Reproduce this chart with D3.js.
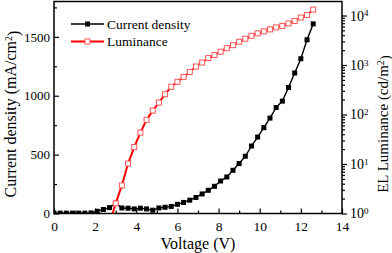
<!DOCTYPE html>
<html>
<head>
<meta charset="utf-8">
<script src="https://cdn.jsdelivr.net/npm/d3@7"></script>
<style>
  body { margin: 0; background: #fff; }
  svg text { font-family: "Liberation Serif", "Times New Roman", serif; fill: #000; }
  .axis path { display: none; }
  .axis line { stroke: #000; stroke-width: 1.2px; }
</style>
</head>
<body>
<div id="chart"></div>
<script>
// voltage steps (V)
var voltage = [0, 0.3, 0.6, 0.9, 1.2, 1.5, 1.8, 2.1, 2.4, 2.7, 3.0, 3.3, 3.6, 3.9, 4.2, 4.5, 4.8,
    5.1, 5.4, 5.7, 6.0, 6.3, 6.6, 6.9, 7.2, 7.5, 7.8, 8.1, 8.4, 8.7, 9.0, 9.3, 9.6, 9.9, 10.2,
    10.5, 10.8, 11.1, 11.4, 11.7, 12.0, 12.3, 12.6];
// current density (mA/cm2)
var currentDensity = [3, 3, 3, 3, 3, 3, 5, 19, 34, 50, 88, 47, 45, 39, 45, 39, 28,
    47, 53, 60, 78, 94, 113, 136, 166, 197, 231, 276, 310, 367, 424, 486, 573, 649, 729,
    810, 900, 954, 1070, 1193, 1314, 1475, 1610];
// luminance (cd/m2), starts at 2.7 V
var lumVoltage = [2.7, 3.0, 3.3, 3.6, 3.9, 4.2, 4.5, 4.8, 5.1, 5.4, 5.7, 6.0, 6.3, 6.6, 6.9,
    7.2, 7.5, 7.8, 8.1, 8.4, 8.7, 9.0, 9.3, 9.6, 9.9, 10.2, 10.5, 10.8, 11.1, 11.4, 11.7,
    12.0, 12.3, 12.6];
var luminance = [0.63, 1.6, 3.7, 10.2, 22, 43, 78, 120, 174, 257, 363, 457, 575, 724, 933,
    1122, 1380, 1585, 1862, 2188, 2512, 2951, 3388, 3890, 4365, 4786, 5248, 5754, 6166, 6918, 7762,
    9120, 10230, 13180];

var xTicks = [0, 2, 4, 6, 8, 10, 12, 14];
var xMinor = [1, 3, 5, 7, 9, 11, 13];
var yLTicks = [0, 500, 1000, 1500];
var yLMinor = [250, 750, 1250, 1750];
var yRTicks = [1, 10, 100, 1000, 10000];
var legendLabels = ["Current density", "Luminance"];

var width = 392, height = 253;
var pLeft = 54, pRight = 342, pTop = 1.5, pBottom = 213.5;

var svg = d3.select("#chart").append("svg")
    .attr("width", width)
    .attr("height", height);

var x = d3.scaleLinear().domain([0, 14]).range([pLeft, pRight]);
var yL = d3.scaleLinear().domain([0, 1800]).range([pBottom, pTop]);
var yR = d3.scaleLog().domain([1, 19200]).range([pBottom, pTop]);

svg.append("clipPath").attr("id", "plot-clip")
    .append("rect")
    .attr("x", pLeft).attr("y", pTop)
    .attr("width", pRight - pLeft).attr("height", pBottom - pTop);

// axes
svg.append("g").attr("class", "axis")
    .attr("transform", "translate(0," + pBottom + ")")
    .call(d3.axisBottom(x).tickValues(xTicks).tickSizeInner(-5).tickSizeOuter(0).tickPadding(8))
    .selectAll("text").style("font-size", "13.5px");

svg.append("g").attr("class", "axis")
    .attr("transform", "translate(0," + pBottom + ")")
    .call(d3.axisBottom(x).tickValues(xMinor).tickSizeInner(-3).tickSizeOuter(0).tickFormat(""));

svg.append("g").attr("class", "axis")
    .attr("transform", "translate(" + pLeft + ",0)")
    .call(d3.axisLeft(yL).tickValues(yLTicks).tickFormat(d3.format("d"))
        .tickSizeInner(-5).tickSizeOuter(0).tickPadding(4))
    .selectAll("text").style("font-size", "13px");

svg.append("g").attr("class", "axis")
    .attr("transform", "translate(" + pLeft + ",0)")
    .call(d3.axisLeft(yL).tickValues(yLMinor).tickSizeInner(-3).tickSizeOuter(0).tickFormat(""));

var rightAxis = svg.append("g").attr("class", "axis")
    .attr("transform", "translate(" + pRight + ",0)")
    .call(d3.axisRight(yR).tickValues(yRTicks).tickSizeInner(5).tickSizeOuter(0).tickPadding(3)
        .tickFormat(function () { return ""; }));

rightAxis.selectAll(".tick text").each(function (d) {
    var t = d3.select(this).style("font-size", "14px");
    t.append("tspan").text("10");
    t.append("tspan").attr("dy", "-0.45em").style("font-size", "9px").text(Math.round(Math.log10(d)));
});

var rMinor = [];
yRTicks.forEach(function (dec) {
    for (var k = 2; k <= 9; k++) {
        if (dec * k <= 19200) rMinor.push(dec * k);
    }
});
svg.append("g").attr("class", "axis")
    .attr("transform", "translate(" + pRight + ",0)")
    .call(d3.axisRight(yR).tickValues(rMinor).tickSizeInner(3).tickSizeOuter(0).tickFormat(""));

// frame
svg.append("rect")
    .attr("x", pLeft).attr("y", pTop)
    .attr("width", pRight - pLeft).attr("height", pBottom - pTop)
    .style("fill", "none")
    .style("stroke", "#000")
    .style("stroke-width", "1.5px");

var jData = voltage.map(function (v, i) { return {v: v, j: currentDensity[i]}; });
var lData = lumVoltage.map(function (v, i) { return {v: v, l: luminance[i]}; });

var plot = svg.append("g").attr("clip-path", "url(#plot-clip)");

// current density series
plot.append("path")
    .datum(jData)
    .attr("d", d3.line().x(function (d) { return x(d.v); }).y(function (d) { return yL(d.j); }))
    .style("fill", "none")
    .style("stroke", "#000")
    .style("stroke-width", "1.4px");

plot.selectAll(".jdot")
    .data(jData)
    .enter().append("rect")
    .attr("class", "jdot")
    .attr("x", function (d) { return x(d.v) - 2.5; })
    .attr("y", function (d) { return yL(d.j) - 2.5; })
    .attr("width", 5)
    .attr("height", 5)
    .style("fill", "#000");

// luminance series
plot.append("path")
    .datum(lData)
    .attr("d", d3.line().x(function (d) { return x(d.v); }).y(function (d) { return yR(d.l); }))
    .style("fill", "none")
    .style("stroke", "#f00")
    .style("stroke-width", "2px");

plot.selectAll(".ldot")
    .data(lData)
    .enter().append("rect")
    .attr("class", "ldot")
    .attr("x", function (d) { return x(d.v) - 2.5; })
    .attr("y", function (d) { return yR(d.l) - 2.5; })
    .attr("width", 5)
    .attr("height", 5)
    .style("fill", "#fff")
    .style("stroke", "#f55")
    .style("stroke-width", "1px");

// legend
var legend = svg.append("g").attr("transform", "translate(71,24)");
legendLabels.forEach(function (name, i) {
    var g = legend.append("g").attr("transform", "translate(0," + (i * 17.5) + ")");
    var col = i === 0 ? "#000" : "#f00";
    g.append("line")
        .attr("x1", 0).attr("x2", 33).attr("y1", 0).attr("y2", 0)
        .style("stroke", col).style("stroke-width", i === 0 ? "1.4px" : "2px");
    if (i === 0) {
        g.append("rect").attr("x", 14).attr("y", -2.5).attr("width", 5).attr("height", 5)
            .style("fill", "#000");
    } else {
        g.append("rect").attr("x", 14).attr("y", -2.5).attr("width", 5).attr("height", 5)
            .style("fill", "#fff").style("stroke", "#f55").style("stroke-width", "1px");
    }
    g.append("text")
        .attr("x", 36).attr("y", 0).attr("dy", "0.35em")
        .style("font-size", "13.5px")
        .text(name);
});

// axis titles
svg.append("text")
    .attr("x", (pLeft + pRight) / 2).attr("y", 249)
    .attr("text-anchor", "middle")
    .style("font-size", "16px")
    .text("Voltage (V)");

var yTitle = svg.append("text")
    .attr("transform", "translate(16,114) rotate(-90)")
    .attr("text-anchor", "middle")
    .style("font-size", "16px");
yTitle.append("tspan").text("Current density (mA/cm");
yTitle.append("tspan").attr("dy", "-0.45em").style("font-size", "10px").text("2");
yTitle.append("tspan").attr("dy", "0.45em").text(")");

var rTitle = svg.append("text")
    .attr("transform", "translate(388,124) rotate(-90)")
    .attr("text-anchor", "middle")
    .style("font-size", "15px");
rTitle.append("tspan").text("EL Luminance (cd/m");
rTitle.append("tspan").attr("dy", "-0.45em").style("font-size", "10px").text("2");
rTitle.append("tspan").attr("dy", "0.45em").text(")");
</script>
</body>
</html>
